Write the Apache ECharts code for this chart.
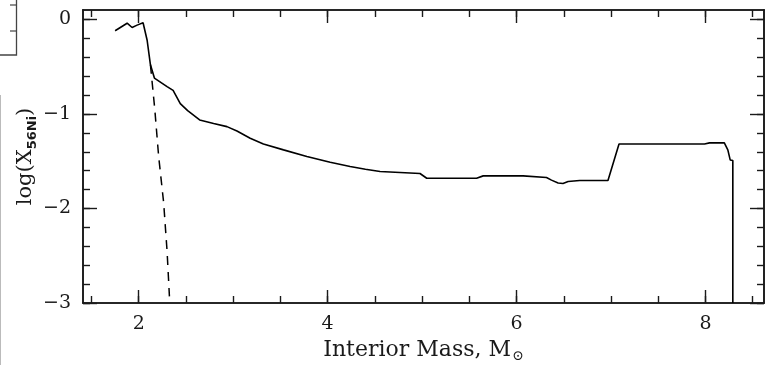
<!DOCTYPE html>
<html>
<head>
<meta charset="utf-8">
<script src="https://cdn.jsdelivr.net/npm/echarts@6/dist/echarts.min.js"></script>
<style>
  html, body { margin: 0; padding: 0; background: #fff; }
  #chart { width: 774px; height: 365px; }
</style>
</head>
<body>
<div id="chart"></div>
<script>
// Interior mass (solar masses) and log 56Ni mass fraction, solid profile
var massSolid = [1.75, 1.877, 1.93, 1.983, 2.046, 2.089, 2.124, 2.166, 2.30, 2.364, 2.44, 2.518,
  2.645, 2.793, 2.934, 3.04, 3.18, 3.32, 3.533, 3.78, 4.027, 4.238, 4.4, 4.555, 4.978, 5.049,
  5.577, 5.647, 6.07, 6.317, 6.37, 6.44, 6.492, 6.546, 6.669, 6.968, 7.085, 7.99, 8.043, 8.2,
  8.237, 8.262, 8.29, 8.29];
var logNiSolid = [-0.12, -0.04, -0.085, -0.06, -0.035, -0.22, -0.48, -0.62, -0.71, -0.75, -0.89, -0.965,
  -1.063, -1.10, -1.134, -1.18, -1.257, -1.317, -1.38, -1.45, -1.51, -1.556, -1.585, -1.609, -1.63, -1.68,
  -1.68, -1.655, -1.655, -1.673, -1.70, -1.73, -1.735, -1.715, -1.704, -1.704, -1.317, -1.317, -1.306, -1.306,
  -1.38, -1.486, -1.493, -3.0];

// Dashed profile
var massDashed = [2.124, 2.17, 2.211, 2.264, 2.30, 2.325];
var logNiDashed = [-0.48, -0.95, -1.45, -1.94, -2.45, -2.93];

// Axis ticks and labels
var xMajor = [2, 4, 6, 8];
var xMinor = [1.5, 2, 2.5, 3, 3.5, 4, 4.5, 5, 5.5, 6, 6.5, 7, 7.5, 8, 8.5];
var yMajor = [0, -1, -2, -3];
var yMinor = [0, -0.2, -0.4, -0.6, -0.8, -1, -1.2, -1.4, -1.6, -1.8, -2, -2.2, -2.4, -2.6, -2.8, -3];

function pairs(xs, ys) {
  return xs.map(function (x, i) { return [x, ys[i]]; });
}

var ink = '#1a1a1a';
var serif = 'DejaVu Serif';
var X_MIN = 1.41, X_MAX = 8.62, Y_MIN = -3, Y_MAX = 0.1;

function xAxisDef(pos, ticks, len, withLabels) {
  var a = {
    type: 'value', position: pos, min: X_MIN, max: X_MAX,
    axisLine: { show: true, onZero: false, lineStyle: { color: ink, width: 1.6 } },
    axisTick: { show: true, inside: true, length: len, customValues: ticks,
      lineStyle: { color: ink, width: 1.4 } },
    axisLabel: { show: false },
    splitLine: { show: false }
  };
  if (withLabels) {
    a.axisLabel = { show: true, customValues: xMajor, margin: 12,
      color: ink, fontFamily: serif, fontSize: 19 };
    a.name = '{t|Interior Mass, M}{s|\u2299}';
    a.nameLocation = 'middle';
    a.nameGap = 34;
    a.nameMoveOverlap = false;
    a.nameTextStyle = { rich: {
      t: { fontFamily: serif, fontSize: 22, color: ink },
      s: { fontFamily: serif, fontSize: 14, color: ink, padding: [12, 0, 0, 1] }
    } };
  }
  return a;
}

function yAxisDef(pos, ticks, len, withLabels) {
  var a = {
    type: 'value', position: pos, min: Y_MIN, max: Y_MAX,
    axisLine: { show: true, onZero: false, lineStyle: { color: ink, width: 1.6 } },
    axisTick: { show: true, inside: true, length: len, customValues: ticks,
      lineStyle: { color: ink, width: 1.4 } },
    axisLabel: { show: false },
    splitLine: { show: false }
  };
  if (withLabels) {
    a.axisLabel = { show: true, customValues: yMajor, margin: 12,
      color: ink, fontFamily: serif, fontSize: 19,
      formatter: function (v) { return v < 0 ? '\u2212' + Math.abs(v) : String(v); } };
    a.name = '{t|log(X}{s|56Ni}{t|)}';
    a.nameLocation = 'middle';
    a.nameRotate = 90;
    a.nameGap = 44;
    a.nameMoveOverlap = false;
    a.nameTextStyle = { rich: {
      t: { fontFamily: serif, fontSize: 21, color: ink },
      s: { fontFamily: 'DejaVu Sans', fontWeight: 'bold', fontSize: 13, color: ink, padding: [14, 0, 0, 0] }
    } };
  }
  return a;
}

var chart = echarts.init(document.getElementById('chart'), null, { renderer: 'canvas' });
chart.setOption({
  animation: false,
  backgroundColor: '#fff',
  grid: { left: 83, right: 10, top: 10, bottom: 62, containLabel: false, outerBoundsMode: 'none' },
  xAxis: [
    xAxisDef('bottom', xMajor, 13, true),
    xAxisDef('bottom', xMinor, 7, false),
    xAxisDef('top', xMajor, 13, false),
    xAxisDef('top', xMinor, 7, false)
  ],
  yAxis: [
    yAxisDef('left', yMajor, 14, true),
    yAxisDef('left', yMinor, 7, false),
    yAxisDef('right', yMajor, 14, false),
    yAxisDef('right', yMinor, 7, false)
  ],
  graphic: [
    // edge of the neighbouring panel
    { type: 'polyline', shape: { points: [[16.5, 0], [16.5, 55], [0, 55]] },
      style: { stroke: '#444', lineWidth: 1.3, fill: null } },
    { type: 'line', shape: { x1: 10, y1: 5, x2: 16.5, y2: 5 }, style: { stroke: '#444', lineWidth: 1.2 } },
    { type: 'line', shape: { x1: 10, y1: 31, x2: 16.5, y2: 31 }, style: { stroke: '#444', lineWidth: 1.2 } },
    { type: 'line', shape: { x1: 0.5, y1: 95, x2: 0.5, y2: 365 }, style: { stroke: '#bbb', lineWidth: 1 } }
  ],
  series: [
    {
      type: 'line', xAxisIndex: 0, yAxisIndex: 0,
      data: pairs(massSolid, logNiSolid),
      showSymbol: false, symbol: 'none',
      lineStyle: { color: '#000', width: 1.6 }
    },
    {
      type: 'line', xAxisIndex: 0, yAxisIndex: 0,
      data: pairs(massDashed, logNiDashed),
      showSymbol: false, symbol: 'none',
      lineStyle: { color: '#000', width: 1.5, type: [9, 7] }
    }
  ]
});
</script>
</body>
</html>
